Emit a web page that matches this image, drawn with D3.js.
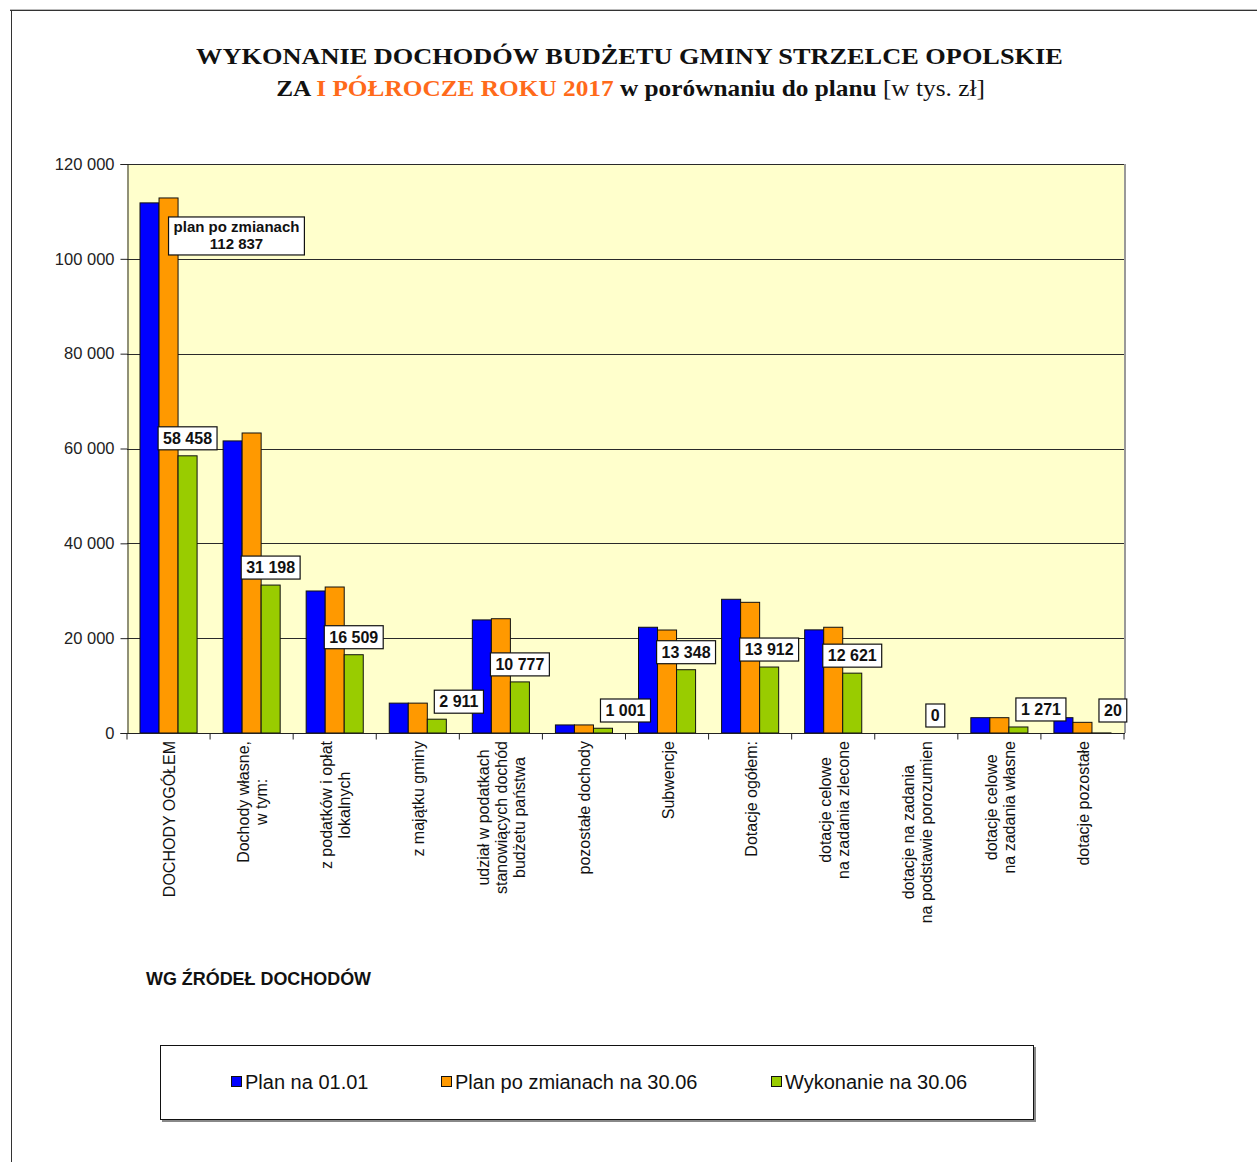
<!DOCTYPE html>
<html><head><meta charset="utf-8">
<script src="https://cdn.jsdelivr.net/npm/d3@7"></script>
<style>
html,body{margin:0;padding:0;background:#fff;}
svg{display:block;}
</style>
</head><body>
<svg id="chart" width="1257" height="1162"></svg>
<script>
const categories = [
  ["DOCHODY OGÓŁEM"],
  ["Dochody własne,", "w tym:"],
  ["z podatków i opłat", "lokalnych"],
  ["z majątku gminy"],
  ["udział w podatkach", "stanowiących dochód", "budżetu państwa"],
  ["pozostałe dochody"],
  ["Subwencje"],
  ["Dotacje ogółem:"],
  ["dotacje celowe", "na zadania zlecone"],
  ["dotacje na zadania", "na podstawie porozumien"],
  ["dotacje celowe", "na zadania własne"],
  ["dotacje pozostałe"]
];
const seriesNames = ["Plan na 01.01", "Plan po zmianach na 30.06", "Wykonanie na 30.06"];
const planStart   = [111800, 61600, 29950, 6300, 23850, 1700, 22300, 28200, 21750, 0, 3230, 3230];
const planChanged = [112837, 63270, 30790, 6300, 24100, 1700, 21720, 27560, 22300, 0, 3230, 2250];
const execution   = [58458, 31198, 16509, 2911, 10777, 1001, 13348, 13912, 12621, 0, 1271, 20];
const yTicks = [0, 20000, 40000, 60000, 80000, 100000, 120000];
const colors = ["#0000ff", "#ff9900", "#99cc00"];

const svg = d3.select("#chart");
const fmt = v => d3.format(",")(v).replace(/,/g, " ");

// page frame
svg.append("line").attr("x1",10).attr("x2",1257).attr("y1",9.5).attr("y2",9.5).attr("stroke","#bbb");
svg.append("line").attr("x1",10).attr("x2",1257).attr("y1",10.5).attr("y2",10.5).attr("stroke","#333");
svg.append("line").attr("x1",11.5).attr("x2",11.5).attr("y1",10).attr("y2",1162).attr("stroke","#333");

// title
function fitWidth(sel, targetW, cx) {
  const w = sel.node().getBBox().width;
  const s = targetW / w;
  sel.attr("transform", `translate(${cx},0) scale(${s},1) translate(${-cx},0)`);
}
const t1 = svg.append("text").attr("x",629.5).attr("y",64).attr("text-anchor","middle")
  .attr("font-family","'Liberation Serif', 'Times New Roman', serif").attr("font-weight","bold")
  .attr("font-size",24).attr("fill","#111")
  .text("WYKONANIE DOCHODÓW BUDŻETU GMINY STRZELCE OPOLSKIE");
fitWidth(t1, 867, 629.5);
const t2 = svg.append("text").attr("x",630.5).attr("y",96).attr("text-anchor","middle")
  .attr("font-family","'Liberation Serif', 'Times New Roman', serif").attr("font-weight","bold")
  .attr("font-size",24).attr("fill","#111");
t2.append("tspan").text("ZA ");
t2.append("tspan").attr("fill","#ff6a1a").text("I PÓŁROCZE ROKU 2017");
t2.append("tspan").text(" w porównaniu do planu ");
t2.append("tspan").attr("font-weight","normal").text("[w tys. zł]");
fitWidth(t2, 709, 630.5);

// plot geometry
const L = 127, R = 1124, T = 164, B = 733;
const y = d3.scaleLinear().domain([0,120000]).range([B,T]);
const x0 = d3.scaleBand().domain(d3.range(categories.length)).range([L,R]).padding(0);
const x1 = d3.scaleBand().domain([0,1,2]).range([13, x0.bandwidth()-13]).padding(0);

svg.append("rect").attr("x",L).attr("y",T).attr("width",R-L).attr("height",B-T).attr("fill","#ffffcc");
svg.append("line").attr("x1",R+1).attr("x2",R+1).attr("y1",T).attr("y2",B).attr("stroke","#999").attr("stroke-width",2);

// gridlines
svg.append("g").selectAll("line").data(yTicks.filter(d=>d>0)).join("line")
  .attr("x1",L).attr("x2",R).attr("y1",d=>Math.round(y(d))+0.5).attr("y2",d=>Math.round(y(d))+0.5)
  .attr("stroke","#2a2a2a").attr("stroke-width",1);

// bars
const series = [planStart, planChanged, execution];
const barG = svg.append("g");
categories.forEach((c,i) => {
  series.forEach((s,j) => {
    if (s[i] <= 0) return;
    barG.append("rect")
      .attr("x", x0(i) + x1(j)).attr("width", x1.bandwidth())
      .attr("y", y(s[i])).attr("height", y(0) - y(s[i]))
      .attr("fill", colors[j]).attr("stroke","#111").attr("stroke-width",1);
  });
});

// y axis
const yAxis = d3.axisLeft(y).tickValues(yTicks).tickFormat(fmt).tickSizeOuter(0).tickSize(7).tickPadding(6);
const ya = svg.append("g").attr("transform",`translate(${L+0.5},0)`).call(yAxis);
ya.select(".domain").attr("stroke","#222");
ya.selectAll(".tick line").attr("stroke","#222");
ya.selectAll("text").attr("font-family","'Liberation Sans', Arial, sans-serif").attr("font-size",16.5).attr("fill","#222");

// x axis
const xa = svg.append("g").attr("transform",`translate(0,${B+0.5})`);
xa.append("line").attr("x1",L).attr("x2",R+1).attr("stroke","#222");
xa.selectAll(".tk").data(d3.range(categories.length+1)).join("line")
  .attr("x1",d=>L+d*x0.bandwidth()).attr("x2",d=>L+d*x0.bandwidth()).attr("y1",0).attr("y2",6).attr("stroke","#222");

// x labels (rotated)
const lineGap = 18;
categories.forEach((lines,i) => {
  const cx = x0(i) + x0.bandwidth()/2 + 1;
  const g = svg.append("g");
  const texts = lines.map((ln,k) => g.append("text")
    .attr("font-family","'Liberation Sans', Arial, sans-serif").attr("font-size",16).attr("fill","#111")
    .attr("text-anchor","middle").attr("dominant-baseline","central").text(ln));
  const maxLen = d3.max(texts, t => t.node().getComputedTextLength());
  const cy = 741 + maxLen/2;
  texts.forEach((t,k) => {
    const lx = cx + (k - (lines.length-1)/2) * lineGap;
    t.attr("transform", `translate(${lx},${cy}) rotate(-90)`);
  });
});

// data labels
function labelBox(lines, fontSize, anchorFn) {
  const g = svg.append("g");
  const rect = g.append("rect").attr("fill","#fff").attr("stroke","#111").attr("stroke-width",1.2);
  const txt = g.append("text").attr("font-family","'Liberation Sans', Arial, sans-serif")
    .attr("font-weight","bold").attr("font-size",fontSize).attr("fill","#111").attr("text-anchor","middle");
  lines.forEach((ln,k) => txt.append("tspan").attr("x",0).attr("dy", k===0 ? 0 : fontSize*1.12).text(ln));
  const w = d3.max(txt.selectAll("tspan").nodes(), n => n.getComputedTextLength()) + 10;
  const h = lines.length === 1 ? 23 : 38;
  const pos = anchorFn(w, h);
  rect.attr("x", pos.x).attr("y", pos.y).attr("width", w).attr("height", h);
  const firstBase = lines.length === 1 ? pos.y + h/2 + fontSize*0.36 : pos.y + 15;
  txt.attr("transform", `translate(${pos.x + w/2},${firstBase})`);
}
execution.forEach((v,i) => {
  const gx = x0(i) + x1(2) + x1.bandwidth()/2;
  const top = y(v);
  const shift = v < 5000 && Math.max(planStart[i], planChanged[i]) > 0;
  labelBox([fmt(v)], 16, (w,h) => {
    const left = shift ? x0(i) + x1(1) + x1.bandwidth() + 7 : gx - w/2;
    const bottom = Math.min(top - 6, B - 11);
    return {x: left, y: (v === 0 ? B - 6 : bottom) - h};
  });
});
// annotation for the changed plan total
labelBox(["plan po zmianach", fmt(planChanged[0])], 15, (w,h) => ({
  x: x0(0) + x1(1) + x1.bandwidth()/2, y: y(planChanged[0]) + 19
}));

// subtitle under axis
svg.append("text").attr("x",146).attr("y",985)
  .attr("font-family","'Liberation Sans', Arial, sans-serif").attr("font-weight","bold")
  .attr("font-size",17.5).attr("fill","#111").attr("textLength",225).attr("lengthAdjust","spacingAndGlyphs")
  .text("WG ŹRÓDEŁ  DOCHODÓW");

// legend
const lg = svg.append("g");
lg.append("rect").attr("x",162).attr("y",1047).attr("width",874).attr("height",75).attr("fill","#888");
lg.append("rect").attr("x",160.5).attr("y",1045.5).attr("width",873).attr("height",74).attr("fill","#fff").attr("stroke","#111");
const legX = [231, 441, 771];
seriesNames.forEach((n,j) => {
  lg.append("rect").attr("x",legX[j]+0.5).attr("y",1076.5).attr("width",10).attr("height",10)
    .attr("fill",colors[j]).attr("stroke","#111");
  lg.append("text").attr("x",legX[j]+14).attr("y",1089)
    .attr("font-family","'Liberation Sans', Arial, sans-serif").attr("font-size",20).attr("fill","#111").text(n);
});
</script>
</body></html>
